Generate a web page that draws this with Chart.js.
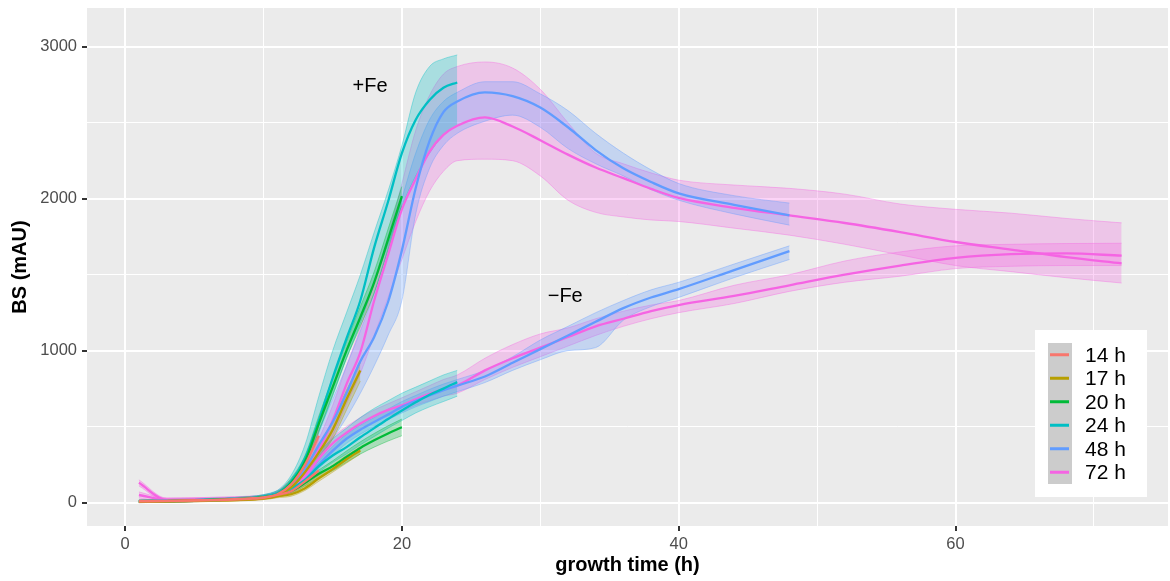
<!DOCTYPE html>
<html>
<head>
<meta charset="utf-8">
<script src="https://cdn.jsdelivr.net/npm/chart.js@4"></script>
<style>
  html, body { margin: 0; padding: 0; background: #fff; }
  #wrap { width: 1170px; height: 581px; position: relative; }
</style>
</head>
<body>
<div id="wrap"><canvas id="bsChart"></canvas></div>
<script>
// sampling times (h) shared by all curves; each curve stops at its own end time
const hours = [1, 3, 5, 7, 9, 10, 11, 12, 13, 14, 15, 16, 17, 18, 19, 20, 21, 22, 23, 24,
               26, 28, 30, 32, 34, 36, 38, 40, 44, 48, 52, 56, 60, 64, 68, 72];

const seriesLabels = ['14 h', '17 h', '20 h', '24 h', '48 h', '72 h'];
const seriesColors = ['#F8766D', '#B79F00', '#00BA38', '#00BFC4', '#619CFF', '#F564E3'];

const xTicks = [0, 10, 20, 30, 40, 50, 60, 70];
const xLabelled = [0, 20, 40, 60];
const yTicks = [0, 500, 1000, 1500, 2000, 2500, 3000];
const yLabelled = [0, 1000, 2000, 3000];

const noteLabels = ['+Fe', '\u2212Fe'];
const noteX = [17.7, 31.8];
const noteY = [2741, 1359];

// 14 h
const plus14Mean  = [10, 12, 15, 20, 28, 35, 55, 120, 250, 440];
const plus14Lo    = [2, 5, 8, 12, 18, 25, 40, 95, 210, 380];
const plus14Hi    = [18, 20, 22, 28, 38, 45, 70, 150, 290, 500];
const minus14Mean = [8, 10, 14, 18, 25, 32, 50, 75, 140, 210];
const minus14Lo   = [0, 3, 6, 10, 16, 22, 38, 60, 120, 185];
const minus14Hi   = [16, 18, 22, 26, 34, 42, 62, 90, 160, 235];

// 17 h
const plus17Mean  = [5, 8, 12, 16, 22, 30, 48, 100, 200, 330, 480, 680, 870];
const plus17Lo    = [0, 2, 5, 9, 14, 20, 35, 80, 170, 290, 420, 610, 800];
const plus17Hi    = [12, 15, 18, 24, 30, 40, 62, 125, 235, 380, 540, 740, 920];
const minus17Mean = [5, 8, 12, 16, 22, 28, 42, 55, 95, 160, 220, 285, 343];
const minus17Lo   = [0, 2, 5, 9, 14, 20, 32, 42, 80, 140, 200, 260, 320];
const minus17Hi   = [12, 15, 18, 24, 30, 38, 55, 70, 115, 180, 245, 310, 365];

// 20 h
const plus20Mean  = [8, 10, 14, 20, 28, 36, 55, 130, 270, 520, 760, 1000, 1220, 1450, 1730, 2017];
const plus20Lo    = [2, 4, 8, 14, 20, 28, 42, 110, 235, 470, 710, 950, 1160, 1380, 1660, 1950];
const plus20Hi    = [14, 16, 20, 26, 36, 46, 70, 160, 310, 570, 820, 1060, 1290, 1520, 1800, 2080];
const minus20Mean = [8, 10, 14, 20, 26, 34, 50, 75, 130, 190, 240, 300, 360, 410, 455, 496];
const minus20Lo   = [2, 4, 8, 14, 18, 25, 38, 60, 110, 165, 210, 265, 320, 365, 405, 440];
const minus20Hi   = [14, 16, 20, 26, 34, 44, 62, 92, 155, 215, 275, 340, 400, 455, 505, 550];

// 24 h
const plus24Mean  = [10, 12, 16, 22, 30, 40, 62, 140, 290, 540, 820, 1080, 1330, 1680, 1980, 2300, 2520, 2650, 2730, 2765];
const plus24Lo    = [3, 5, 9, 15, 22, 30, 48, 110, 240, 460, 700, 950, 1180, 1450, 1700, 1950, 2150, 2300, 2420, 2480];
const plus24Hi    = [18, 20, 24, 30, 40, 52, 80, 180, 380, 700, 1000, 1250, 1500, 1780, 2050, 2350, 2700, 2870, 2920, 2946];
const minus24Mean = [10, 12, 16, 22, 30, 40, 60, 95, 150, 240, 310, 365, 430, 490, 550, 606, 660, 710, 750, 793];
const minus24Lo   = [3, 5, 9, 15, 22, 30, 45, 75, 120, 200, 265, 320, 380, 435, 490, 540, 590, 630, 665, 700];
const minus24Hi   = [18, 20, 24, 30, 40, 52, 78, 120, 220, 330, 420, 490, 560, 620, 670, 720, 760, 800, 840, 870];

// 48 h
const plus48Mean  = [6, 8, 12, 18, 26, 34, 50, 110, 220, 380, 530, 720, 930, 1090, 1320, 1660, 2070, 2380, 2570, 2640,
                     2700, 2675, 2600, 2470, 2320, 2200, 2110, 2035, 1960, 1890];
const plus48Lo    = [0, 2, 6, 12, 20, 28, 40, 80, 160, 300, 420, 560, 720, 900, 1100, 1330, 1900, 2200, 2350, 2430,
                     2510, 2550, 2470, 2330, 2230, 2150, 2060, 1990, 1900, 1826];
const plus48Hi    = [12, 14, 18, 24, 34, 44, 65, 140, 280, 480, 680, 900, 1130, 1380, 1680, 2000, 2300, 2520, 2640, 2700,
                     2770, 2770, 2690, 2580, 2430, 2300, 2190, 2100, 2020, 1971];
const minus48Mean = [6, 8, 12, 18, 26, 34, 52, 85, 150, 250, 340, 420, 480, 530, 580, 630, 670, 705, 740, 770,
                     830, 920, 1010, 1100, 1190, 1280, 1350, 1405, 1530, 1655];
const minus48Lo   = [0, 2, 6, 12, 20, 28, 40, 70, 130, 225, 310, 390, 450, 500, 545, 590, 630, 665, 700, 730,
                     790, 870, 940, 1000, 1020, 1200, 1290, 1350, 1480, 1600];
const minus48Hi   = [12, 14, 18, 24, 34, 44, 65, 100, 170, 275, 370, 450, 510, 560, 615, 665, 705, 745, 780, 810,
                     870, 960, 1070, 1160, 1250, 1330, 1400, 1450, 1570, 1690];

// 72 h
const plus72Mean  = [50, 18, 20, 24, 30, 38, 58, 120, 190, 350, 540, 780, 990, 1330, 1630, 1930, 2130, 2310, 2420, 2480,
                     2535, 2475, 2385, 2290, 2205, 2135, 2065, 2005, 1940, 1890, 1840, 1780, 1715, 1665, 1615, 1575];
const plus72Lo    = [30, 5, 8, 12, 18, 26, 40, 90, 150, 280, 440, 650, 850, 1100, 1350, 1600, 1850, 2050, 2180, 2250,
                     2260, 2250, 2150, 1990, 1910, 1880, 1860, 1850, 1806, 1760, 1700, 1630, 1560, 1520, 1480, 1445];
const plus72Hi    = [70, 30, 32, 36, 42, 50, 78, 150, 240, 420, 640, 900, 1150, 1450, 1750, 2100, 2450, 2680, 2820, 2870,
                     2900, 2860, 2720, 2500, 2300, 2230, 2170, 2122, 2090, 2068, 2030, 1965, 1930, 1905, 1870, 1841];
const minus72Mean = [130, 18, 20, 24, 30, 38, 56, 90, 170, 290, 390, 460, 520, 570, 610, 640, 680, 715, 745, 770,
                     870, 950, 1020, 1090, 1160, 1210, 1260, 1300, 1360, 1430, 1500, 1560, 1610, 1635, 1640, 1625];
const minus72Lo   = [110, 5, 8, 12, 18, 26, 40, 70, 140, 250, 350, 420, 480, 530, 570, 600, 640, 670, 700, 720,
                     810, 890, 960, 1030, 1100, 1160, 1210, 1250, 1310, 1390, 1450, 1490, 1540, 1555, 1560, 1560];
const minus72Hi   = [150, 30, 32, 36, 42, 50, 72, 110, 200, 330, 430, 500, 560, 610, 650, 690, 730, 770, 810, 840,
                     950, 1040, 1110, 1150, 1210, 1260, 1300, 1330, 1430, 1500, 1590, 1650, 1690, 1700, 1705, 1707];

// [mean, lo, hi] per condition, per series
const curves = [
  [[plus14Mean, plus14Lo, plus14Hi], [minus14Mean, minus14Lo, minus14Hi]],
  [[plus17Mean, plus17Lo, plus17Hi], [minus17Mean, minus17Lo, minus17Hi]],
  [[plus20Mean, plus20Lo, plus20Hi], [minus20Mean, minus20Lo, minus20Hi]],
  [[plus24Mean, plus24Lo, plus24Hi], [minus24Mean, minus24Lo, minus24Hi]],
  [[plus48Mean, plus48Lo, plus48Hi], [minus48Mean, minus48Lo, minus48Hi]],
  [[plus72Mean, plus72Lo, plus72Hi], [minus72Mean, minus72Lo, minus72Hi]]
];

function rgba(hex, a) {
  const n = parseInt(hex.slice(1), 16);
  return `rgba(${(n >> 16) & 255},${(n >> 8) & 255},${n & 255},${a})`;
}
const pts = arr => arr.map((v, k) => ({ x: hours[k], y: v }));

const datasets = [];
curves.forEach((conds, s) => {
  const col = seriesColors[s];
  conds.forEach(([mean, lo, hi]) => {
    const loIdx = datasets.length;
    datasets.push({
      data: pts(lo), borderColor: rgba(col, 0.55), borderWidth: 0.7,
      pointRadius: 0, fill: false, order: 3, cubicInterpolationMode: 'monotone'
    });
    datasets.push({
      data: pts(hi), borderColor: rgba(col, 0.55), borderWidth: 0.7,
      pointRadius: 0, backgroundColor: rgba(col, 0.28),
      fill: { target: loIdx }, order: 3, cubicInterpolationMode: 'monotone'
    });
    datasets.push({
      label: seriesLabels[s], data: pts(mean), borderColor: col, borderWidth: 2.3,
      pointRadius: 0, fill: false, order: 1, cubicInterpolationMode: 'monotone'
    });
  });
});

const panelBg = {
  id: 'panelBg',
  beforeDraw(chart) {
    const { ctx, chartArea: a } = chart;
    ctx.save();
    ctx.fillStyle = '#EBEBEB';
    ctx.fillRect(a.left, a.top, a.right - a.left, a.bottom - a.top);
    ctx.restore();
  }
};

const overlay = {
  id: 'overlay',
  afterDraw(chart) {
    const { ctx } = chart;
    const xs = chart.scales.x, ys = chart.scales.y;
    ctx.save();
    ctx.fillStyle = '#000';
    ctx.font = "20px 'Liberation Sans', Arial, sans-serif";
    ctx.textAlign = 'center';
    ctx.textBaseline = 'middle';
    noteLabels.forEach((t, i) => {
      ctx.fillText(t, xs.getPixelForValue(noteX[i]), ys.getPixelForValue(noteY[i]));
    });

    // legend box, bottom right inside panel
    const bx = 1035, by = 330, bw = 112, bh = 167;
    ctx.fillStyle = '#fff';
    ctx.fillRect(bx, by, bw, bh);
    const kx = bx + 13, ky = by + 13, kw = 24, kh = 23.5;
    ctx.fillStyle = '#CCCCCC';
    ctx.fillRect(kx, ky, kw, kh * seriesLabels.length);
    ctx.textAlign = 'left';
    ctx.font = "21px 'Liberation Sans', Arial, sans-serif";
    seriesLabels.forEach((lab, i) => {
      const cy = ky + kh * (i + 0.5);
      ctx.strokeStyle = seriesColors[i];
      ctx.lineWidth = 3;
      ctx.beginPath();
      ctx.moveTo(kx + 2, cy);
      ctx.lineTo(kx + kw - 3, cy);
      ctx.stroke();
      ctx.fillStyle = '#000';
      ctx.fillText(lab, kx + kw + 13, cy + 1);
    });
    ctx.restore();
  }
};

Chart.defaults.font.family = "'Liberation Sans', Arial, sans-serif";

// '' keeps a grid line without a label; null hides the edge ticks entirely
const tickText = (v, all, labelled) =>
  labelled.includes(v) ? String(v) : (all.includes(v) ? '' : null);

new Chart(document.getElementById('bsChart'), {
  type: 'line',
  data: { datasets },
  plugins: [panelBg, overlay],
  options: {
    responsive: true,
    maintainAspectRatio: false,
    animation: false,
    events: [],
    layout: { padding: { top: 8, right: 2, left: 0, bottom: 0 } },
    plugins: { legend: { display: false }, tooltip: { enabled: false } },
    scales: {
      x: {
        type: 'linear', min: -2.75, max: 75.35,
        afterBuildTicks: s => { s.ticks = [s.min, ...xTicks, s.max].map(v => ({ value: v })); },
        afterFit: s => { s.height = 55; s.paddingLeft = 0; s.paddingRight = 0; },
        border: { display: false },
        grid: {
          color: '#FFFFFF',
          lineWidth: c => xLabelled.includes(c.tick.value) ? 2 : 1,
          tickColor: c => xLabelled.includes(c.tick.value) ? '#333333' : 'rgba(0,0,0,0)',
          tickLength: 5, tickWidth: 2
        },
        ticks: {
          autoSkip: false, maxRotation: 0, padding: 4,
          color: '#4D4D4D', font: { size: 16.5 },
          callback: v => tickText(v, xTicks, xLabelled)
        },
        title: {
          display: true, text: 'growth time (h)', color: '#000',
          font: { size: 20, weight: 'bold' }, padding: { top: 0, bottom: 4 }
        }
      },
      y: {
        type: 'linear', min: -154, max: 3255,
        afterBuildTicks: s => { s.ticks = [s.min, ...yTicks, s.max].map(v => ({ value: v })); },
        afterFit: s => { s.width = 87; s.paddingTop = 0; s.paddingBottom = 0; },
        border: { display: false },
        grid: {
          color: '#FFFFFF',
          lineWidth: c => yLabelled.includes(c.tick.value) ? 2 : 1,
          tickColor: c => yLabelled.includes(c.tick.value) ? '#333333' : 'rgba(0,0,0,0)',
          tickLength: 5, tickWidth: 2
        },
        ticks: {
          autoSkip: false, padding: 5,
          color: '#4D4D4D', font: { size: 16.5 },
          callback: v => tickText(v, yTicks, yLabelled)
        },
        title: {
          display: true, text: 'BS (mAU)', color: '#000',
          font: { size: 20, weight: 'bold' }, padding: { top: 8, bottom: 0 }
        }
      }
    }
  }
});
</script>
</body>
</html>
